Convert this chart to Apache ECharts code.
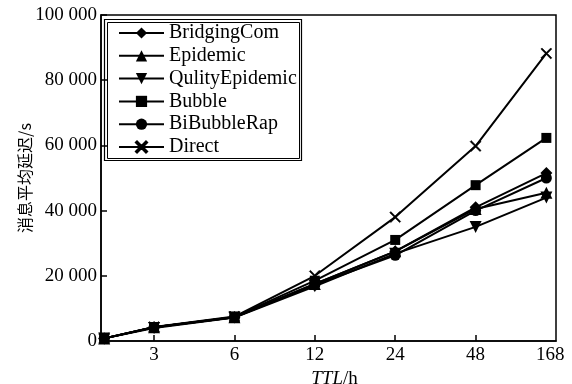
<!DOCTYPE html>
<html>
<head>
<meta charset="utf-8">
<script src="https://cdn.jsdelivr.net/npm/echarts@6/dist/echarts.min.js"></script>
<style>html,body{margin:0;padding:0;background:#fff}#c{width:572px;height:384px}</style>
</head>
<body>
<div id="c"></div>
<script>
// TTL categories (hours) and their ordinal position on the (non-uniform) x axis
const ttlLabels = ['0', '3', '6', '12', '24', '48', '168'];
const ttlPos = [0.38, 1, 2, 3, 4, 5, 5.88];
const xTickLabels = ['3', '6', '12', '24', '48', '168'];
const xTickPos = [1, 2, 3, 4, 5, 5.93];
const yTicks = [0, 20000, 40000, 60000, 80000, 100000];

const seriesNames = ['BridgingCom', 'Epidemic', 'QulityEpidemic', 'Bubble', 'BiBubbleRap', 'Direct'];
const bridgingCom = [800, 4200, 7300, 17500, 27500, 41000, 51500];
const epidemic = [800, 4200, 7300, 17500, 27500, 40500, 45500];
const qulityEpidemic = [800, 4000, 7200, 16800, 26800, 35000, 44000];
const bubble = [800, 4200, 7400, 18500, 31000, 47800, 62300];
const biBubbleRap = [800, 4200, 7300, 17200, 26300, 40000, 50000];
const direct = [800, 4300, 7500, 20000, 38000, 59800, 88200];

const values = [bridgingCom, epidemic, qulityEpidemic, bubble, biBubbleRap, direct];
const symbols = ['diamond', 'triangle', 'triangle', 'rect', 'circle',
  'path://M0,1L1,0L5,4L9,0L10,1L6,5L10,9L9,10L5,6L1,10L0,9L4,5Z'];
const rotates = [0, 0, 180, 0, 0, 0];
const sizes = [12, 12, 12, 10, 11, 11];

const serif = "'Liberation Serif', 'Times New Roman', serif";
const fmt = v => String(v).replace(/\B(?=(\d{3})+(?!\d))/g, ' ');

const chart = echarts.init(document.getElementById('c'), null, {renderer: 'canvas'});
chart.setOption({
  animation: false,
  backgroundColor: '#fff',
  grid: {left: 101, right: 16, top: 15, bottom: 43, show: true, borderColor: '#000', borderWidth: 1.5,
    containLabel: false, outerBoundsMode: 'none'},
  xAxis: {
    type: 'value', min: 0.34, max: 6,
    name: '{i|TTL}/h', nameLocation: 'middle', nameGap: 25,
    nameTextStyle: {color: '#000', fontFamily: serif, fontSize: 19, padding: [0, 0, 0, 12],
      rich: {i: {fontStyle: 'italic', fontFamily: serif, fontSize: 19, color: '#000'}}},
    axisLine: {lineStyle: {color: '#000', width: 1.5}},
    axisTick: {inside: true, length: 6, lineStyle: {color: '#000', width: 1.5}, customValues: xTickPos.slice(0, 5)},
    axisLabel: {color: '#000', fontFamily: serif, fontSize: 19, margin: 5, customValues: xTickPos,
      formatter: v => { const i = xTickPos.findIndex(p => Math.abs(p - v) < 1e-6); return i >= 0 ? xTickLabels[i] : ''; }},
    splitLine: {show: false}
  },
  yAxis: {
    type: 'value', min: 0, max: 100000, interval: 20000,
    name: '消息平均延迟/s', nameLocation: 'middle', nameGap: 68, nameMoveOverlap: false,
    nameTextStyle: {color: '#000', fontFamily: "'Noto Sans CJK SC', sans-serif", fontSize: 16},
    axisLine: {lineStyle: {color: '#000', width: 1.5}},
    axisTick: {inside: true, length: 6, lineStyle: {color: '#000', width: 1.5}},
    axisLabel: {color: '#000', fontFamily: serif, fontSize: 19, margin: 4, customValues: yTicks, formatter: v => fmt(v)},
    splitLine: {show: false}
  },
  legend: {
    orient: 'vertical', left: 118, top: 23, itemWidth: 45, itemHeight: 14, itemGap: 2.8,
    padding: 0,
    textStyle: {color: '#000', fontFamily: serif, fontSize: 20, lineHeight: 20},
    data: seriesNames
  },
  graphic: [
    {type: 'rect', z: 0, shape: {x: 104.5, y: 19.5, width: 197, height: 141}, style: {fill: '#fff', stroke: '#000', lineWidth: 1.2}},
    {type: 'rect', z: 0, shape: {x: 107.5, y: 22.5, width: 192, height: 136}, style: {fill: 'none', stroke: '#000', lineWidth: 1}}
  ],
  series: seriesNames.map((name, k) => ({
    name: name, type: 'line',
    data: values[k].map((v, i) => [ttlPos[i], v]),
    symbol: symbols[k], symbolSize: sizes[k], symbolRotate: rotates[k],
    lineStyle: {color: '#000', width: 2},
    itemStyle: {color: '#000', borderColor: '#000', borderWidth: k === 5 ? 0.5 : 0},
    z: 3
  }))
});
</script>
</body>
</html>
